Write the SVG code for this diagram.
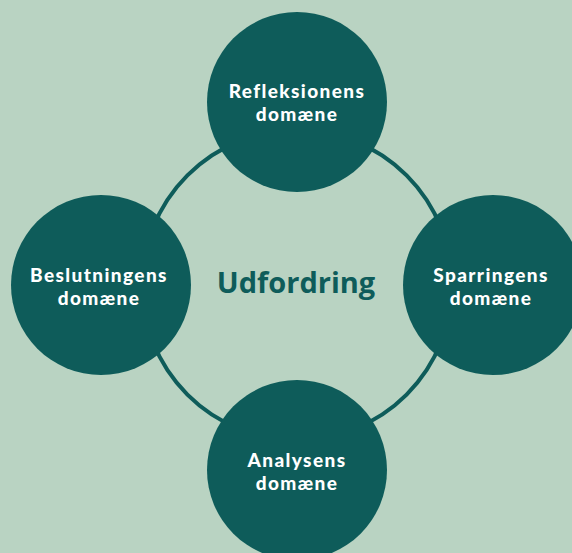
<svg xmlns="http://www.w3.org/2000/svg" width="572" height="553" viewBox="0 0 572 553">
<style>
.bg{fill:#b9d3c2}
.node{fill:#0e5c5a}
.lbl{font-family:Lato,"Liberation Sans",sans-serif;font-weight:900;font-size:19px;letter-spacing:1.4px;fill:#ffffff;text-anchor:middle}
.center{font-family:"Open Sans","Liberation Sans",sans-serif;font-weight:bold;font-size:29px;fill:#0e5c5a;text-anchor:middle}
.ring{fill:none;stroke:#0e5c5a;stroke-width:4}
</style>
<rect class="bg" x="0" y="0" width="572" height="553"/>
<g id="connectors">
<circle class="ring" cx="297" cy="285" r="155"/>
</g>
<g id="center">
<text class="center" x="296" y="293">Udfordring</text>
</g>
<g id="refleksion">
<circle class="node" cx="297" cy="102" r="90"/>
<text class="lbl" x="297" y="98">Refleksionens<tspan x="297" dy="23">domæne</tspan></text>
</g>
<g id="beslutning">
<circle class="node" cx="101" cy="285" r="90"/>
<text class="lbl" x="99" y="282">Beslutningens<tspan x="99" dy="23">domæne</tspan></text>
</g>
<g id="sparring">
<circle class="node" cx="493" cy="285" r="90"/>
<text class="lbl" x="491" y="282">Sparringens<tspan x="491" dy="23">domæne</tspan></text>
</g>
<g id="analyse">
<circle class="node" cx="297" cy="470" r="90"/>
<text class="lbl" x="297" y="467">Analysens<tspan x="297" dy="23">domæne</tspan></text>
</g>
</svg>
